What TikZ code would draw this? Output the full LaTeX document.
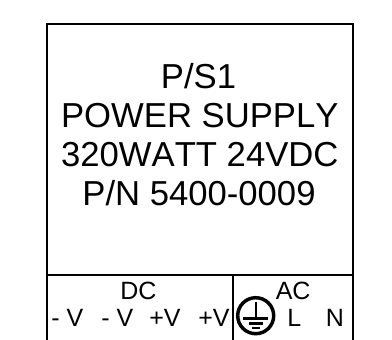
\documentclass[tikz,border=0pt]{standalone}
\usepackage{fontspec}
\setmainfont{Liberation Sans}[Kerning=Off]
\tikzset{
  big/.style={font=\fontsize{26}{26}\selectfont,anchor=base,inner sep=0pt},
  small/.style={font=\fontsize{18.75}{19}\selectfont,anchor=base west,inner sep=0pt},
  frameline/.style={draw=black,line width=1.5pt},
  earth/.style={draw=black,line width=1.5pt}
}
\begin{document}
\begin{tikzpicture}[x=0.75pt,y=-0.75pt]
\useasboundingbox (0,0) rectangle (392,339);
\clip (0,0) rectangle (392,339);
\coordinate (tl) at (46.5,23.5);
\coordinate (tr) at (353,23.5);
\coordinate (bl) at (46.5,345);
\coordinate (br) at (353,345);
\coordinate (ml) at (46.5,274.5);
\coordinate (mr) at (353,274.5);
\coordinate (mt) at (233,274.5);
\coordinate (mb) at (233,345);
\draw[frameline] (bl) -- (tl) -- (tr) -- (br);
\draw[frameline] (ml) -- (mr);
\draw[frameline,line width=1.2pt] (mt) -- (mb);
\node[big] (t1) at (198.5,88) {P/S1};
\node[big] (t2) at (199.8,127) {POWER SUPPLY};
\node[big] (t3) at (199.8,166) {320WATT 24VDC};
\node[big] (t4) at (199,205) {P/N 5400-0009};
\node[small] (dc) at (120,299) {DC};
\node[small] (ac) at (275.5,299) {AC};
\node[small] (v1) at (51,326) {- V};
\node[small] (v2) at (101,326) {- V};
\node[small] (v3) at (149,326) {+V};
\node[small] (v4) at (198,326) {+V};
\node[small] (l) at (287,326) {L};
\node[small] (n) at (325.5,326) {N};
\node[draw=black,line width=2.6pt,circle,minimum size=27pt,inner sep=0pt] (gnd) at (255.7,315.7) {};
\coordinate (s1) at (255.7,302);
\coordinate (s2) at (255.7,318);
\coordinate (a1) at (243,318.5); \coordinate (a2) at (268,318.5);
\coordinate (b1) at (249,323.5); \coordinate (b2) at (263,323.5);
\coordinate (c1) at (251.5,327.5); \coordinate (c2) at (260,327.5);
\draw[earth] (s1) -- (s2);
\draw[earth,line width=2.4pt] (a1) -- (a2);
\draw[earth,line width=2pt] (b1) -- (b2);
\draw[earth,line width=1.5pt] (c1) -- (c2);
\end{tikzpicture}
\end{document}
